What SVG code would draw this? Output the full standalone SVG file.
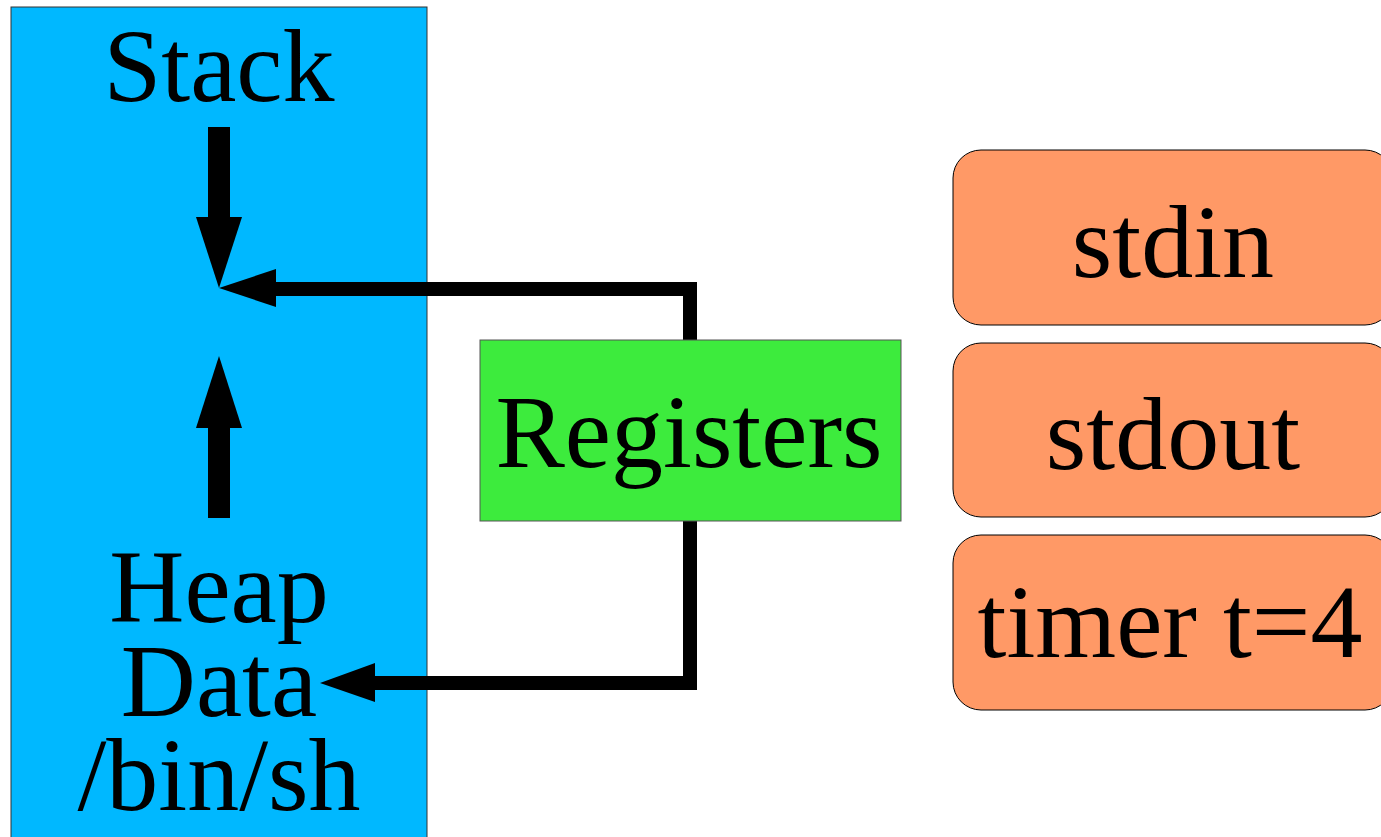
<svg xmlns="http://www.w3.org/2000/svg" width="1381" height="837" viewBox="0 0 1381 837">
<style>
text{font-family:'Liberation Serif','Times New Roman',Times,'DejaVu Serif',serif;font-size:104px;fill:#000;text-anchor:middle}
.dev{fill:#FF9966;stroke:#000;stroke-width:1}
.conn{fill:none;stroke:#000;stroke-width:14}
.head{fill:#000}
</style>
<rect width="1381" height="837" fill="#fff"/>
<g id="memory">
<rect x="11" y="7" width="416" height="840" fill="#00B8FF" stroke="#333" stroke-width="1"/>
<text x="219" y="101" font-family="Liberation Serif, serif">Stack</text>
<rect x="208" y="127" width="22" height="91" class="head"/>
<polygon points="196,217 242,217 219,288" class="head"/>
<rect x="208" y="427" width="22" height="91" class="head"/>
<polygon points="196,428 242,428 219,356" class="head"/>
<text x="219" y="622" font-family="Liberation Serif, serif">Heap</text>
<text x="219" y="716" font-family="Liberation Serif, serif">Data</text>
<text x="219" y="810" font-family="Liberation Serif, serif">/bin/sh</text>
</g>
<g id="connectors">
<polyline class="conn" points="270,289 690,289 690,340"/>
<polygon class="head" points="219,288 276,269 276,307"/>
<polyline class="conn" points="370,683 690,683 690,521"/>
<polygon class="head" points="320,683 375,663 375,702"/>
</g>
<g id="registers">
<rect x="480" y="340" width="421" height="181" fill="#3DEB3D" stroke="#555" stroke-width="1"/>
<text x="689" y="467" font-family="Liberation Serif, serif">Registers</text>
</g>
<g id="stdin">
<rect class="dev" x="953" y="150" width="440" height="175" rx="28" ry="28"/>
<text x="1173" y="277" font-family="Liberation Serif, serif">stdin</text>
</g>
<g id="stdout">
<rect class="dev" x="953" y="343" width="440" height="174" rx="28" ry="28"/>
<text x="1173" y="469" font-family="Liberation Serif, serif">stdout</text>
</g>
<g id="timer">
<rect class="dev" x="953" y="535" width="440" height="175" rx="28" ry="28"/>
<text x="1170" y="657" font-family="Liberation Serif, serif">timer t=4</text>
</g>
</svg>
